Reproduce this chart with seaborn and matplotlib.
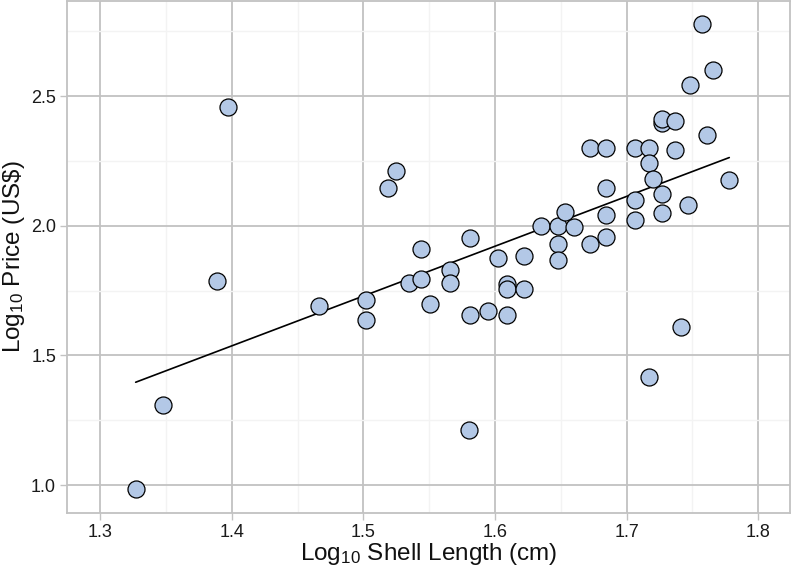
import seaborn as sns
import matplotlib.pyplot as plt
import pandas as pd

# log10 shell length (cm) and log10 price (US$)
log_length = [
    1.327, 1.348, 1.389, 1.397, 1.466, 1.502, 1.502, 1.519, 1.525,
    1.535, 1.544, 1.544, 1.551, 1.566, 1.566, 1.581, 1.581, 1.580,
    1.595, 1.602, 1.609, 1.609, 1.609, 1.622, 1.622, 1.635, 1.648,
    1.648, 1.648, 1.653, 1.660, 1.672, 1.672, 1.684, 1.684, 1.684,
    1.684, 1.706, 1.706, 1.706, 1.717, 1.717, 1.720, 1.717, 1.727,
    1.727, 1.727, 1.727, 1.737, 1.737, 1.741, 1.747, 1.748, 1.757,
    1.761, 1.766, 1.778,
]
log_price = [
    0.986, 1.310, 1.786, 2.460, 1.690, 1.713, 1.638, 2.146, 2.210,
    1.779, 1.796, 1.912, 1.700, 1.828, 1.779, 1.955, 1.655, 1.213,
    1.671, 1.877, 1.777, 1.755, 1.655, 1.882, 1.758, 2.001, 2.001,
    1.931, 1.870, 2.052, 1.997, 2.301, 1.931, 2.301, 2.146, 2.042,
    1.956, 2.301, 2.101, 2.023, 2.301, 2.243, 2.181, 1.415, 2.398,
    2.414, 2.123, 2.050, 2.406, 2.291, 1.609, 2.079, 2.545, 2.778,
    2.352, 2.601, 2.177,
]
x_ticks = [1.3, 1.4, 1.5, 1.6, 1.7, 1.8]
y_ticks = [1.0, 1.5, 2.0, 2.5]

df = pd.DataFrame({"length": log_length, "price": log_price})

sns.set_theme(style="whitegrid")
plt.rcParams["font.family"] = ["Liberation Sans", "DejaVu Sans"]
plt.rcParams["mathtext.fontset"] = "custom"
plt.rcParams["mathtext.rm"] = "Liberation Sans"
plt.rcParams["mathtext.it"] = "Liberation Sans"

fig = plt.figure(figsize=(7.91, 5.66), dpi=100)
ax = fig.add_axes([0.085, 0.094, 0.9135, 0.904])

grid_col = "#c2c2c2"
ax.set_facecolor("white")

sns.regplot(data=df, x="length", y="price", scatter=False, ci=None,
            color="black", line_kws={"linewidth": 1.2}, ax=ax)
sns.scatterplot(data=df, x="length", y="price", s=150, color="#b3c8e6",
                edgecolor="black", linewidth=0.9, zorder=3, ax=ax)

ax.set_xlim(1.275, 1.824)
ax.set_ylim(0.893, 2.867)
ax.set_xticks(x_ticks)
ax.set_yticks(y_ticks)
ax.set_xticks([1.35, 1.45, 1.55, 1.65, 1.75], minor=True)
ax.set_yticks([1.25, 1.75, 2.25, 2.75], minor=True)
ax.grid(which="major", color=grid_col, linewidth=1.3)
ax.grid(which="minor", color="#f3f3f3", linewidth=1.0)
ax.set_axisbelow(True)

for side in ["left", "bottom", "top", "right"]:
    ax.spines[side].set_color(grid_col)
    ax.spines[side].set_linewidth(1.3)

ax.tick_params(which="major", axis="both", length=5, width=1.0, color=grid_col,
               labelsize=13, labelcolor="#1a1a1a", direction="out", pad=3,
               bottom=True, left=True)
ax.tick_params(which="minor", length=0)
ax.set_xticklabels([f"{t:.1f}" for t in x_ticks])
ax.set_yticklabels([f"{t:.1f}" for t in y_ticks])

ax.set_xlabel(r"Log$_{\mathrm{10}}$ Shell Length (cm)", fontsize=17.5,
              color="#111111", labelpad=0)
ax.set_ylabel(r"Log$_{\mathrm{10}}$ Price (US\$)", fontsize=17.5,
              color="#111111", labelpad=3)

plt.savefig("out.png", dpi=100)
plt.close()
